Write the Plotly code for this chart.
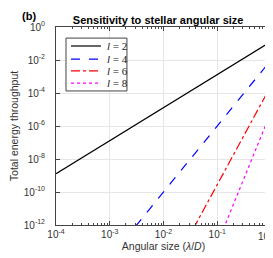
import math
import plotly.graph_objects as go

# Data (log-log straight lines)
angular_size = [1e-4, 1e-3, 1e-2, 1e-1, 0.2, 0.5, 1.0]
thr_l2 = [1.3e-9, 1.3e-7, 1.3e-5, 1.3e-3, 5.2e-3, 3.3e-2, 0.13]
thr_l4 = [1e-18, 1e-14, 1e-10, 1e-6, 1.6e-5, 6.3e-4, 1e-2]
thr_l6 = [2.8e-28, 2.8e-22, 2.8e-16, 2.8e-10, 1.8e-8, 4.4e-6, 2.8e-4]
thr_l8 = [7e-38, 7e-30, 7e-22, 7e-14, 1.8e-11, 2.7e-8, 7e-6]
series_names = ["<i>l</i> = 2", "<i>l</i> = 4", "<i>l</i> = 6", "<i>l</i> = 8"]
series_vals = [thr_l2, thr_l4, thr_l6, thr_l8]
colors = ["black", "blue", "red", "magenta"]
dashes = ["solid", "dash", "dashdot", "dot"]

x_tickvals = [1e-4, 1e-3, 1e-2, 1e-1, 1]
x_ticktext = ["10<sup>-4</sup>", "10<sup>-3</sup>", "10<sup>-2</sup>", "10<sup>-1</sup>", "10<sup>0</sup>"]
y_tickvals = [1e-12, 1e-10, 1e-8, 1e-6, 1e-4, 1e-2, 1]
y_ticktext = ["10<sup>-12</sup>", "10<sup>-10</sup>", "10<sup>-8</sup>", "10<sup>-6</sup>",
              "10<sup>-4</sup>", "10<sup>-2</sup>", "10<sup>0</sup>"]
x_minor = [m * d for d in x_tickvals[:-1] for m in range(2, 10)]

tick_font = dict(family="Liberation Sans, Arial", size=10, color="#333")

fig = go.Figure()
for name, vals, c, d in zip(series_names, series_vals, colors, dashes):
    fig.add_trace(go.Scatter(x=angular_size, y=vals, mode="lines", name=name,
                             line=dict(color=c, dash=d, width=1.2), showlegend=False))

axis_common = dict(type="log", showline=True, linecolor="#444", linewidth=1,
                   mirror="allticks", ticks="inside", ticklen=4, tickcolor="#444",
                   showgrid=True, gridcolor="#e6e6e6", gridwidth=1, zeroline=False,
                   ticklabeloverflow="allow", automargin=False, tickfont=tick_font)

# last x tick label is drawn as an annotation anchored inside the page edge
x_ticktext_axis = x_ticktext[:-1] + [""]
fig.update_xaxes(**axis_common, range=[-4, 0], tickvals=x_tickvals, ticktext=x_ticktext_axis,
                 minor=dict(tickmode="array", tickvals=x_minor, ticks="inside", ticklen=2,
                            tickcolor="#444", showgrid=False),
                 title=dict(text="Angular size (<i>λ</i>/<i>D</i>)", standoff=3,
                            font=dict(family="Liberation Sans, Arial", size=10.5, color="#333")))
fig.update_yaxes(**axis_common, range=[-12, 0], tickvals=y_tickvals, ticktext=y_ticktext,
                 ticklabelstandoff=8,
                 title=dict(text="Total energy throughput", standoff=4,
                            font=dict(family="Liberation Sans, Arial", size=10.5, color="#333")))

# Manual legend (box, line samples, labels) in paper coordinates
shapes = [dict(type="rect", xref="paper", yref="paper", x0=0.0465, x1=0.330, y0=0.677, y1=0.944,
               line=dict(color="#444", width=1), fillcolor="white", layer="above")]
annotations = []
row_y = [0.904, 0.838, 0.778, 0.717]
for name, c, d, ry in zip(series_names, colors, dashes, row_y):
    shapes.append(dict(type="line", xref="paper", yref="paper", x0=0.0698, x1=0.209, y0=ry, y1=ry,
                       line=dict(color=c, dash=d, width=1.2), layer="above"))
    annotations.append(dict(text=name, x=0.228, y=ry, xref="paper", yref="paper",
                            xanchor="left", yanchor="middle", showarrow=False,
                            font=dict(family="Liberation Serif, Times New Roman", size=11, color="#222")))

annotations.append(dict(text=x_ticktext[-1], x=math.log10(x_tickvals[-1]), xref="x", y=0, yref="paper",
                        xanchor="right", yanchor="top", xshift=3, yshift=-4, showarrow=False,
                        borderpad=0, font=tick_font))

annotations.append(dict(text="<b>(b)</b>", x=0, y=1, xref="paper", yref="paper",
                        xshift=-36, yshift=19, xanchor="left", yanchor="top", showarrow=False,
                        font=dict(family="Liberation Sans, Arial", size=11, color="black")))

fig.update_layout(
    width=273, height=258,
    margin=dict(l=48, r=10, t=19, b=41),
    plot_bgcolor="white", paper_bgcolor="white",
    title=dict(text="<b>Sensitivity to stellar angular size</b>", x=0.55, xanchor="center",
               y=0.953, yanchor="middle",
               font=dict(family="Liberation Sans, Arial", size=11, color="black")),
    showlegend=False,
    shapes=shapes,
    annotations=annotations,
)

fig.write_html("out.html")
